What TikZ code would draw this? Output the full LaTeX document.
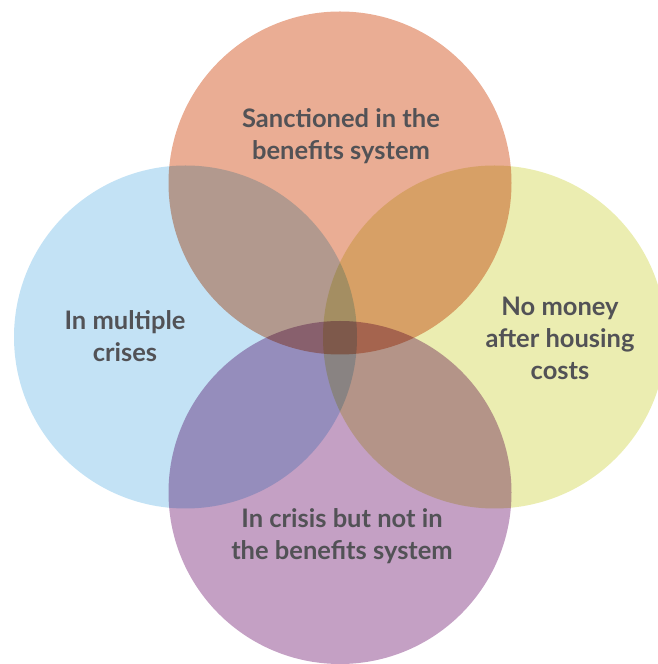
\documentclass[tikz,border=0pt]{standalone}
\usepackage{fontspec}
\setmainfont{Lato}
\usepackage{tikz}
\usetikzlibrary{positioning}
\definecolor{topset}{HTML}{EAAD94}
\definecolor{leftset}{HTML}{C3E2F5}
\definecolor{rightset}{HTML}{EBEDB1}
\definecolor{bottomset}{HTML}{C4A0C4}
\definecolor{labelgrey}{HTML}{525256}
\tikzset{setlabel/.style={align=center,text=labelgrey,font=\fontsize{25.5}{32}\selectfont\bfseries,inner sep=0pt}}
\begin{document}
\begin{tikzpicture}[line cap=round,line join=round,x=1pt,y=1pt]
\useasboundingbox (0,0) rectangle (658,664);
\clip (0,0) rectangle (658,664);
% the four sets, multiplied where they overlap
\begin{scope}[blend group=multiply]
\fill [topset] (340,481) circle (171.5);
\fill [leftset] (185.5,327) circle (171.5);
\fill [rightset] (494.5,327) circle (171.5);
\fill [bottomset] (340,171.5) circle (171.5);
\end{scope}
% labels
\node [setlabel] (sanctioned) at (341,528) {Sanctioned in the\\benefits system};
\node [setlabel] (multiple) at (125,328) {In multiple\\crises};
\node [setlabel] (nomoney) at (560,326) {No money\\after housing\\costs};
\node [setlabel] (crisis) at (342,128) {In crisis but not in\\the benefits system};
\end{tikzpicture}
\end{document}
